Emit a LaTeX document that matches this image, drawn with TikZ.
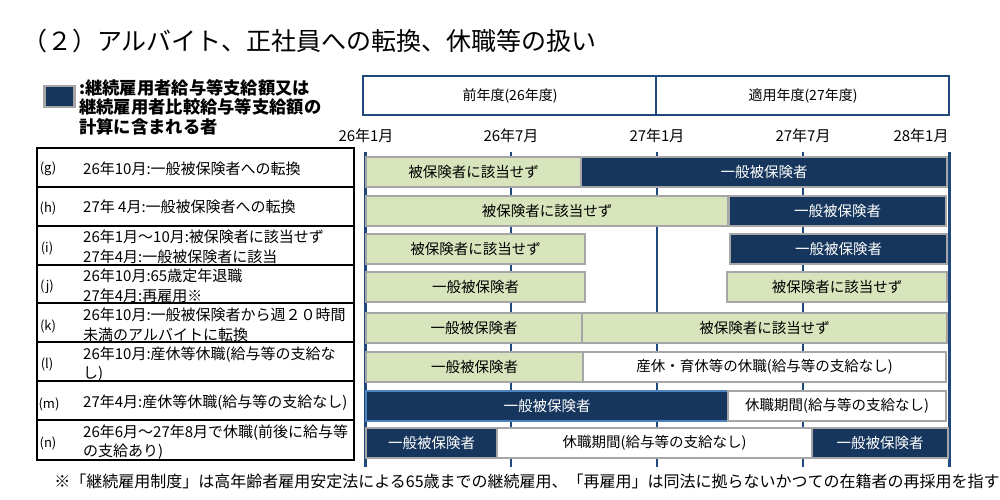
\documentclass[tikz,border=0pt]{standalone}
\usepackage{fontspec}
\setmainfont{Noto Sans CJK JP}
\usetikzlibrary{positioning}

\definecolor{barNavy}{RGB}{23,54,93}
\definecolor{barGreen}{RGB}{216,228,188}
\definecolor{barGray}{RGB}{166,166,166}
\definecolor{axisBlue}{RGB}{31,73,125}
\definecolor{lightBlue}{RGB}{79,129,189}

\tikzset{
  barbase/.style={draw=barGray, line width=2.5, inner sep=0pt, outer sep=0pt,
    anchor=north west, minimum height=30, font=\fontsize{14.5}{16}\selectfont},
  greenbar/.style={barbase, fill=barGreen, text=black},
  navybar/.style={barbase, fill=barNavy, text=white},
  whitebar/.style={barbase, fill=white, text=black},
  rowtext/.style={anchor=west, align=left, inner sep=0pt, font=\fontsize{15}{19.5}\selectfont},
  rowtag/.style={inner sep=0pt, font=\fontsize{13}{15}\selectfont},
  datelabel/.style={inner sep=0pt, font=\fontsize{15}{17}\selectfont},
  headbox/.style={draw=axisBlue, line width=2.5}
}

\begin{document}
\begin{tikzpicture}[x=1pt, y=-1pt]
\useasboundingbox (0,0) rectangle (1000,500);

% title
\node[anchor=west, inner sep=0pt, font=\fontsize{25}{30}\selectfont] (title) at (22,41) {（２）アルバイト、正社員への転換、休職等の扱い};

% legend
\node[draw=barGray, line width=2.5, fill=barNavy, minimum width=30, minimum height=21, inner sep=0pt, anchor=north west] (legbox) at (43,85) {};
\node[anchor=north west, align=left, inner sep=0pt, font=\bfseries\fontsize{17.3}{19.5}\selectfont] (legtext) at (79,79) {:継続雇用者給与等支給額又は\\継続雇用者比較給与等支給額の\\計算に含まれる者};

% header
\draw[headbox] (363,76) rectangle (949,115);
\draw[headbox] (656,76) -- (656,115);
\node[datelabel, font=\fontsize{14}{16}\selectfont] (prev) at (510,96) {前年度(26年度)};
\node[datelabel, font=\fontsize{14}{16}\selectfont] (appl) at (803,96) {適用年度(27年度)};

% dates
\node[datelabel] (t0) at (366,136) {26年1月};
\node[datelabel] (t1) at (511,136) {26年7月};
\node[datelabel] (t2) at (657,136) {27年1月};
\node[datelabel] (t3) at (803,136) {27年7月};
\node[datelabel] (t4) at (921,136) {28年1月};

% time lines
\draw[line width=3, color=axisBlue](365,152) -- (365,467);
\draw[line width=2, color=axisBlue](511,152) -- (511,467);
\draw[line width=2, color=axisBlue](657,152) -- (657,467);
\draw[line width=2, color=axisBlue](803,152) -- (803,467);
\draw[line width=3, color=axisBlue](949,152) -- (949,467);

% table
\draw[line width=2](37,148) rectangle (354,460);
\draw[line width=2](37,187) -- (354,187);
\draw[line width=2](37,226) -- (354,226);
\draw[line width=2](37,265) -- (354,265);
\draw[line width=2](37,303) -- (354,303);
\draw[line width=2](37,342) -- (354,342);
\draw[line width=2](37,381) -- (354,381);
\draw[line width=2](37,420) -- (354,420);

\node[rowtag] (tg) at (48,169) {(g)};
\node[rowtag] (th) at (48,208) {(h)};
\node[rowtag] (ti) at (47,248) {(i)};
\node[rowtag] (tj) at (47,287) {(j)};
\node[rowtag] (tk) at (48,326) {(k)};
\node[rowtag] (tl) at (47,364) {(l)};
\node[rowtag] (tm) at (49,404) {(m)};
\node[rowtag] (tn) at (48,443) {(n)};

\node[rowtext] (rg) at (83,169) {26年10月:一般被保険者への転換};
\node[rowtext] (rh) at (83,207) {27年 4月:一般被保険者への転換};
\node[rowtext] (ri) at (83,247) {26年1月～10月:被保険者に該当せず\\27年4月:一般被保険者に該当};
\node[rowtext] (rj) at (83,286) {26年10月:65歳定年退職\\27年4月:再雇用※};
\node[rowtext] (rk) at (83,325) {26年10月:一般被保険者から週２０時間\\未満のアルバイトに転換};
\node[rowtext] (rl) at (83,364) {26年10月:産休等休職(給与等の支給な\\し)};
\node[rowtext] (rm) at (83,403) {27年4月:産休等休職(給与等の支給なし)};
\node[rowtext] (rn) at (83,442) {26年6月～27年8月で休職(前後に給与等\\の支給あり)};

% bars
\node[greenbar, minimum width=215] (g1) at (366,157) {被保険者に該当せず};
\node[navybar, minimum width=366] (g2) at (581,157) {一般被保険者};

\node[greenbar, minimum width=362] (h1) at (366,196) {被保険者に該当せず};
\node[navybar, minimum width=217] (h2) at (729,196) {一般被保険者};

\node[greenbar, minimum width=219] (i1) at (366,234) {被保険者に該当せず};
\node[navybar, minimum width=217] (i2) at (730,234) {一般被保険者};

\node[greenbar, minimum width=219] (j1) at (366,272) {一般被保険者};
\node[greenbar, minimum width=220] (j2) at (727,272) {被保険者に該当せず};

\node[greenbar, minimum width=216] (k1) at (366,313) {一般被保険者};
\node[greenbar, minimum width=365] (k2) at (582,313) {被保険者に該当せず};

\node[greenbar, minimum width=217] (l1) at (366,352) {一般被保険者};
\node[whitebar, minimum width=363] (l2) at (583,352) {産休・育休等の休職(給与等の支給なし)};

\node[navybar, draw=lightBlue, minimum width=362] (m1) at (366,391) {一般被保険者};
\node[whitebar, minimum width=218] (m2) at (728,391) {休職期間(給与等の支給なし)};

\node[navybar, minimum width=131] (n1) at (366,428) {一般被保険者};
\node[whitebar, minimum width=315] (n2) at (497,428) {休職期間(給与等の支給なし)};
\node[navybar, minimum width=136] (n3) at (812,428) {一般被保険者};

% note
\node[inner sep=0pt, font=\fontsize{16}{18}\selectfont] (note) at (527,481) {※「継続雇用制度」は高年齢者雇用安定法による65歳までの継続雇用、「再雇用」は同法に拠らないかつての在籍者の再採用を指す};
\end{tikzpicture}
\end{document}
